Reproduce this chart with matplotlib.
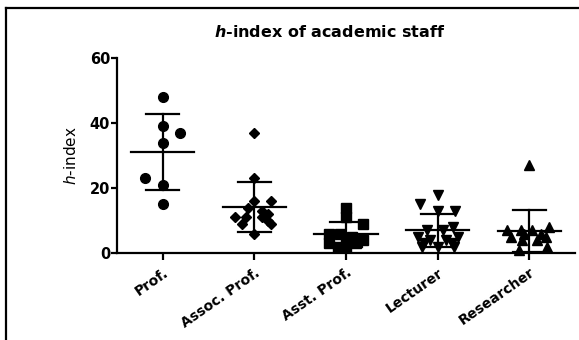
import numpy as np
import matplotlib
matplotlib.use("Agg")
import matplotlib.pyplot as plt
from matplotlib.lines import Line2D

# h-index values, one list per staff group
groups = ["Prof.", "Assoc. Prof.", "Asst. Prof.", "Lecturer", "Researcher"]
prof = [48, 39, 37, 34, 23, 21, 15]
assoc = [37, 23, 16, 16, 14, 13, 12, 11, 11, 11, 10, 9, 9, 6]
asst = [14, 11, 9, 6, 6, 5, 4, 4, 3, 3, 2, 2]
lecturer = [18, 15, 13, 13, 8, 7, 7, 5, 5, 4, 4, 3, 3, 2, 2, 2]
researcher = [27, 8, 7, 7, 7, 6, 6, 5, 5, 4, 4, 2, 1]

# horizontal scatter of the points (pixels), as in the picture
jit_prof = [0, 0, 17, 0, -18, 0, 0]
jit_assoc = [0, 0, 0, 17, -6, 8, 14, -19, -8, 8, 14, -12, 17, 0]
jit_asst = [0, 0, 17, -17, -6, 6, 0, 17, -17, 10, -8, 0]
jit_lect = [0, -18, 0, 17, 15, -11, 5, -20, 20, -8, 8, -14, 14, -16, 0, 16]
jit_res = [0, 20, -22, 3, -8, -5, 12, -18, 17, -7, 8, 18, -10]

data = [prof, assoc, asst, lecturer, researcher]
jitter = [jit_prof, jit_assoc, jit_asst, jit_lect, jit_res]
markers = ["o", "D", "s", "v", "^"]
msizes = [7, 5.5, 6.5, 7, 7]

plt.rcParams["font.family"] = "DejaVu Sans"

fig = plt.figure(figsize=(5.79, 3.40), dpi=100)
ax = fig.add_axes([117/579, 1-253/340, 458/579, 195/340])

px = 91.75  # pixels per category
for i, vals in enumerate(data):
    v = np.array(vals, dtype=float)
    xs = i + np.array(jitter[i]) / px
    ax.plot(xs, v, linestyle="none", marker=markers[i], ms=msizes[i],
            color="black", zorder=2, clip_on=False)
    m = v.mean()
    sd = v.std(ddof=1)
    ax.plot([i - 0.345, i + 0.345], [m, m], color="black", lw=1.6, zorder=3)
    ax.plot([i, i], [m - sd, m + sd], color="black", lw=1.6, zorder=3)
    for e in (m - sd, m + sd):
        ax.plot([i - 0.18, i + 0.18], [e, e], color="black", lw=1.6, zorder=3)

ax.set_xlim(-0.5, 4.5)
ax.set_ylim(0, 60)
ax.set_yticks([0, 20, 40, 60])
ax.set_xticks(range(len(groups)))
ax.set_xticklabels(groups, rotation=35, ha="right", va="top",
                   rotation_mode="anchor", fontsize=10, fontweight="bold")
for lab in ax.get_yticklabels():
    lab.set_fontweight("bold")
    lab.set_fontsize(10.5)

for s in ["top", "right"]:
    ax.spines[s].set_visible(False)
for s in ["left", "bottom"]:
    ax.spines[s].set_linewidth(1.6)
ax.tick_params(axis="y", length=4, width=1.6, pad=1)
ax.tick_params(axis="x", length=5, width=1.6, pad=4)

ax.set_ylabel("$\\mathit{h}$-index", fontsize=11, labelpad=8)
fig.text(330/579, 1 - 32/340, "$\\mathbfit{h}$-index of academic staff",
         ha="center", va="center", fontsize=11.5, fontweight="bold")

# frame around the figure (top and left edges visible)
fig.add_artist(Line2D([6/579, 1], [1 - 8/340, 1 - 8/340], color="black", lw=1.6,
                      transform=fig.transFigure))
fig.add_artist(Line2D([6/579, 6/579], [0, 1 - 8/340], color="black", lw=1.6,
                      transform=fig.transFigure))

fig.savefig("out.png", dpi=100)
